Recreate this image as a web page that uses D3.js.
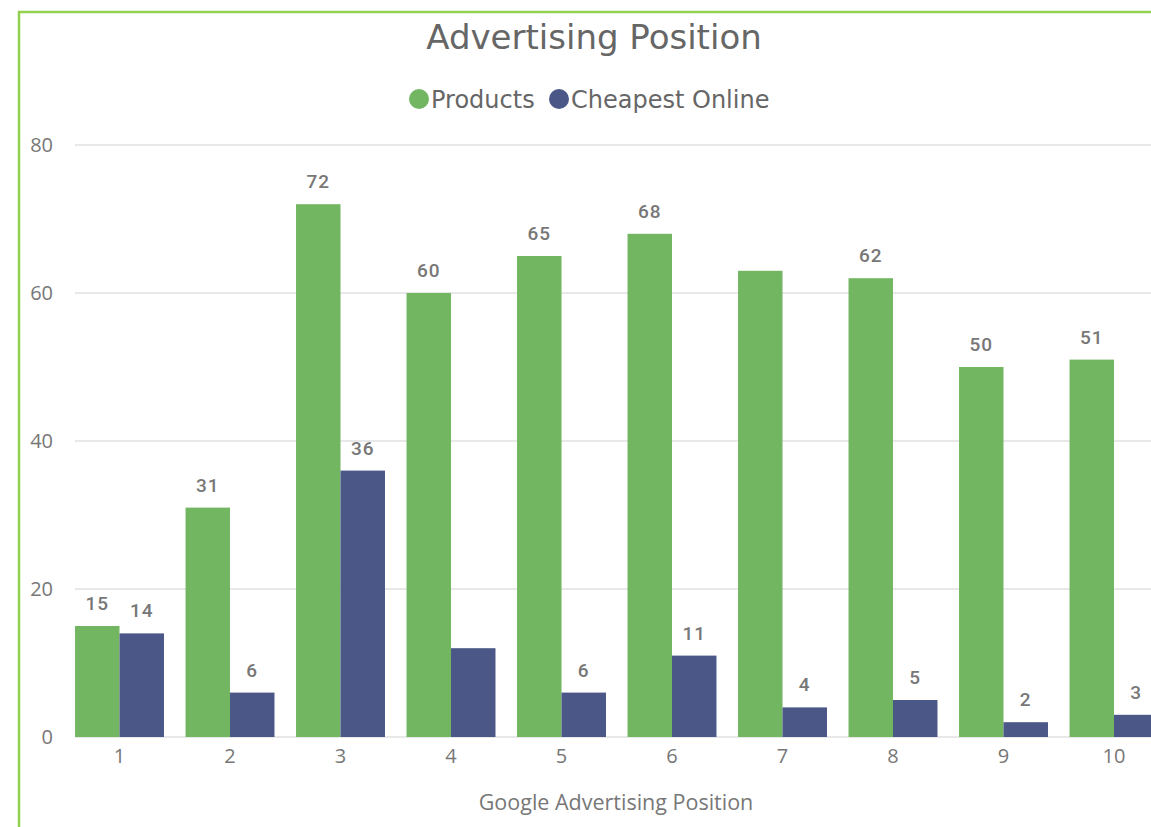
<!DOCTYPE html>
<html><head><meta charset="utf-8">
<script src="https://cdn.jsdelivr.net/npm/d3@7"></script>
<style>html,body{margin:0;padding:0;background:#fff;overflow:hidden}</style>
</head><body>
<svg id="chart" width="1151" height="827"></svg>
<script>
const categories = ["1","2","3","4","5","6","7","8","9","10"];
const products = [15,31,72,60,65,68,63,62,50,51];
const cheapest = [14,6,36,12,6,11,4,5,2,3];
const seriesNames = ["Products","Cheapest Online"];
const seriesColors = ["#72b662","#4a5787"];
const yTicks = [0,20,40,60,80];
const hiddenLabels = [["Cheapest Online","4"],["Products","7"]];

const svg = d3.select("#chart");
const W = 1151, H = 827;
// border
svg.append("path").attr("d", `M19,${H} L19,12 L${W},12`).attr("fill","none")
  .attr("stroke","#92d050").attr("stroke-width",2.5);

const y = d3.scaleLinear().domain([0,80]).range([737,145]);
const x0 = d3.scaleBand().domain(categories).range([64.25,1169.25]).paddingInner(0.195).paddingOuter(0.0975);
const x1 = d3.scaleBand().domain(seriesNames).range([0,x0.bandwidth()]);

// grid
svg.append("g").selectAll("line").data(yTicks).join("line")
  .attr("x1",75).attr("x2",W).attr("y1",d=>y(d)).attr("y2",d=>y(d))
  .attr("stroke","#e8e8e8").attr("stroke-width",2);

// y axis labels
const yAxis = d3.axisLeft(y).tickValues(yTicks).tickSize(0).tickPadding(0);
const gy = svg.append("g").attr("transform","translate(53,0)").call(yAxis);
gy.select(".domain").remove();
gy.selectAll("text").attr("font-family","'Open Sans', sans-serif").attr("font-size",20).attr("fill","#777");

// x axis labels
const xAxis = d3.axisBottom(x0).tickSize(0).tickPadding(0);
const gx = svg.append("g").attr("transform","translate(0,749)").call(xAxis);
gx.select(".domain").remove();
gx.selectAll("text").attr("font-family","'Open Sans', sans-serif").attr("font-size",20).attr("fill","#777");

const data = categories.map((c,i)=>({cat:c, vals:[{s:seriesNames[0],v:products[i]},{s:seriesNames[1],v:cheapest[i]}]}));
const groups = svg.append("g").selectAll("g").data(data).join("g")
  .attr("transform",d=>`translate(${x0(d.cat)},0)`);
groups.selectAll("rect").data(d=>d.vals).join("rect")
  .attr("x",d=>x1(d.s)).attr("width",x1.bandwidth())
  .attr("y",d=>y(d.v)).attr("height",d=>y(0)-y(d.v))
  .attr("fill",(d,i)=>seriesColors[i]);
groups.selectAll("text").data(d=>d.vals.map(v=>({...v,cat:d.cat})).filter(v=>!hiddenLabels.some(h=>h[0]===v.s&&h[1]===v.cat))).join("text")
  .attr("x",d=>x1(d.s)+x1.bandwidth()/2).attr("y",d=>y(d.v)-16)
  .attr("text-anchor","middle").attr("font-family","Roboto, sans-serif")
  .attr("font-weight",500).attr("font-size",19).attr("letter-spacing",1).attr("fill","#777").text(d=>d.v);

// title
svg.append("text").attr("x",594).attr("y",49).attr("text-anchor","middle")
  .attr("font-family","'DejaVu Sans',sans-serif").attr("font-size",34).attr("fill","#666")
  .text("Advertising Position");

// legend
const leg = [{n:seriesNames[0],cx:419,tx:431},{n:seriesNames[1],cx:559,tx:571}];
leg.forEach((l,i)=>{
  svg.append("circle").attr("cx",l.cx).attr("cy",99).attr("r",10).attr("fill",seriesColors[i]);
  svg.append("text").attr("x",l.tx).attr("y",108).attr("font-family","'DejaVu Sans',sans-serif")
    .attr("font-size",24).attr("fill","#666").text(l.n);
});

// x title
svg.append("text").attr("x",616).attr("y",810).attr("text-anchor","middle")
  .attr("font-family","'Open Sans', sans-serif").attr("font-size",21.5).attr("fill","#777")
  .text("Google Advertising Position");
</script>
</body></html>
